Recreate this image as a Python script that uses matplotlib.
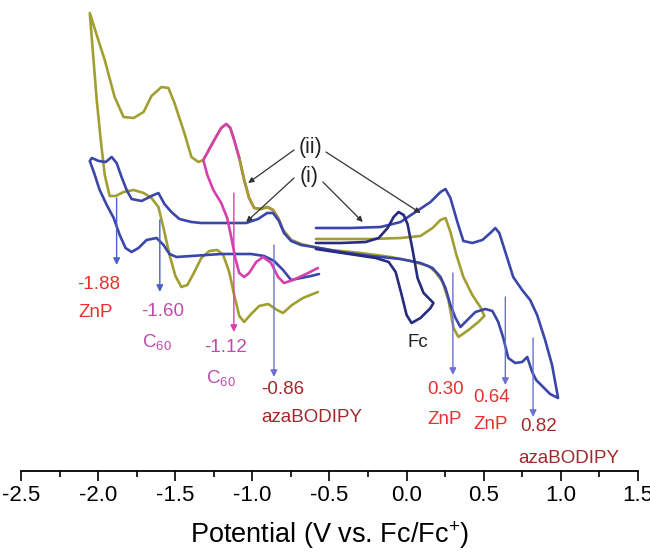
import numpy as np
import matplotlib
matplotlib.use("Agg")
import matplotlib.pyplot as plt
from matplotlib.ticker import MultipleLocator

plt.rcParams['font.family'] = ['Liberation Sans', 'DejaVu Sans']
plt.rcParams['mathtext.fontset'] = 'custom'
plt.rcParams['mathtext.rm'] = 'Liberation Sans'
plt.rcParams['mathtext.it'] = 'Liberation Sans'

# (ii) scan: -0.6 V -> +0.5 V -> -2.05 V -> -0.6 V  (current, arb. units)
E_ii = [-0.588, -0.426, -0.233, -0.039, 0.090, 0.168, 0.220, 0.252, 0.284, 0.323,
        0.368, 0.426, 0.478, 0.504, 0.465, 0.401, 0.336, 0.304, 0.271, 0.233,
        0.187, 0.142, 0.026, -0.103, -0.297, -0.491, -0.601, -0.685, -0.749, -0.801,
        -0.833, -0.866, -0.904, -0.943, -0.988, -1.021, -1.053, -1.085, -1.118, -1.143,
        -1.169, -1.202, -1.247, -1.286, -1.318, -1.350, -1.395, -1.441, -1.505, -1.544,
        -1.589, -1.654, -1.705, -1.770, -1.835, -1.893, -1.957, -2.003, -2.054, -2.035,
        -2.009, -1.983, -1.957, -1.925, -1.886, -1.835, -1.770, -1.705, -1.654, -1.609,
        -1.576, -1.537, -1.499, -1.460, -1.421, -1.376, -1.331, -1.279, -1.227, -1.189,
        -1.150, -1.118, -1.085, -1.053, -1.008, -0.956, -0.898, -0.840, -0.801, -0.743,
        -0.672, -0.575]
I_ii = [23.2, 23.2, 23.2, 23.3, 23.5, 24.3, 25.1, 25.3, 23.9, 21.6,
        19.4, 17.6, 16.4, 15.5, 14.9, 14.1, 13.4, 14.3, 17.1, 18.9,
        19.9, 20.5, 21.0, 21.4, 21.8, 22.1, 22.4, 22.7, 23.1, 24.1,
        25.3, 26.1, 26.4, 26.2, 26.3, 27.3, 29.1, 31.3, 33.1, 34.3,
        34.7, 34.3, 33.1, 32.0, 31.1, 30.9, 31.4, 33.8, 36.8, 38.3,
        38.4, 37.5, 35.9, 35.3, 35.4, 37.4, 41.1, 43.3, 45.8, 42.1,
        37.1, 33.1, 29.6, 27.5, 27.5, 27.9, 28.1, 27.8, 27.3, 26.4,
        24.3, 21.6, 19.5, 18.4, 18.6, 19.9, 21.3, 22.0, 22.1, 21.6,
        19.9, 17.6, 15.5, 14.9, 15.7, 16.5, 16.7, 16.1, 15.8, 16.6,
        17.3, 17.9]

# (i) scan: -0.6 V -> +1.0 V -> -2.05 V -> -0.6 V
E_i = [-0.588, -0.362, -0.168, -0.039, 0.058, 0.155, 0.220, 0.252, 0.284, 0.329,
       0.368, 0.426, 0.491, 0.543, 0.575, 0.601, 0.640, 0.691, 0.749, 0.801,
       0.846, 0.898, 0.943, 0.982, 0.930, 0.885, 0.840, 0.814, 0.782, 0.749,
       0.704, 0.659, 0.627, 0.594, 0.556, 0.510, 0.446, 0.381, 0.349, 0.317,
       0.284, 0.252, 0.220, 0.168, 0.090, -0.039, -0.233, -0.426, -0.601, -0.685,
       -0.749, -0.795, -0.827, -0.866, -0.904, -0.963, -1.040, -1.202, -1.331, -1.395,
       -1.473, -1.525, -1.570, -1.609, -1.654, -1.718, -1.783, -1.815, -1.848, -1.880,
       -1.912, -1.951, -1.996, -2.041, -2.054, -2.028, -1.990, -1.944, -1.899, -1.860,
       -1.822, -1.783, -1.738, -1.686, -1.621, -1.576, -1.537, -1.492, -1.395, -1.202,
       -1.008, -0.924, -0.859, -0.801, -0.749, -0.685, -0.620, -0.568]
I_i = [24.3, 24.3, 24.4, 24.9, 25.9, 26.9, 27.9, 28.2, 27.3, 24.9,
       23.0, 22.8, 23.1, 23.8, 24.3, 23.8, 21.9, 19.4, 18.1, 17.1,
       15.6, 13.1, 10.6, 7.3, 7.7, 8.4, 9.1, 9.9, 11.4, 10.9,
       10.8, 11.3, 13.3, 14.9, 16.0, 16.2, 15.9, 14.9, 14.4, 15.3,
       16.6, 18.3, 19.4, 20.3, 20.8, 21.2, 21.5, 21.9, 22.4, 22.6,
       23.0, 23.8, 25.0, 25.8, 25.8, 25.2, 24.8, 24.8, 24.8, 24.9,
       25.2, 25.9, 26.7, 27.8, 27.5, 27.0, 27.2, 28.1, 29.4, 30.8,
       31.4, 30.9, 31.0, 31.3, 31.0, 29.9, 28.1, 26.6, 25.3, 23.6,
       22.3, 21.9, 22.3, 23.1, 23.3, 22.6, 21.7, 21.4, 21.5, 21.7,
       21.7, 21.5, 21.0, 20.1, 19.1, 19.3, 19.5, 19.7]

# ferrocene reference scan
E_fc = [-0.588, -0.426, -0.265, -0.181, -0.123, -0.084, -0.052, -0.019, 0.006, 0.039,
        0.071, 0.110, 0.174, 0.155, 0.090, 0.032, 0.000, -0.032, -0.071, -0.116,
        -0.200, -0.329, -0.459, -0.588]
I_fc = [22.8, 22.8, 22.9, 23.3, 24.3, 25.4, 25.9, 25.6, 24.7, 22.1,
        19.3, 17.8, 16.8, 16.3, 15.3, 14.8, 15.6, 17.6, 19.9, 20.9,
        21.3, 21.6, 21.9, 22.2]

# short scan over the first C60 reduction
E_c60 = [-0.685, -0.749, -0.801, -0.833, -0.866, -0.904, -0.943, -0.988, -1.021, -1.053,
         -1.085, -1.118, -1.143, -1.169, -1.202, -1.247, -1.286, -1.318, -1.292, -1.253,
         -1.202, -1.163, -1.137, -1.111, -1.085, -1.053, -1.021, -0.975, -0.930, -0.879,
         -0.833, -0.795, -0.736, -0.652, -0.575]
I_c60 = [22.7, 23.1, 24.1, 25.3, 26.1, 26.4, 26.2, 26.3, 27.3, 29.1,
         31.3, 33.1, 34.3, 34.7, 34.3, 33.1, 32.0, 31.1, 29.6, 28.1,
         26.8, 25.3, 23.4, 21.3, 19.8, 19.4, 19.8, 20.9, 21.4, 20.8,
         19.4, 18.8, 19.1, 19.7, 20.3]

# half-wave potentials (V) with marker extents and labels
peak_E = [-1.88, -1.60, -1.12, -0.86, 0.30, 0.64, 0.82]
peak_top = [27.3, 25.1, 27.8, 22.6, 19.8, 17.4, 13.3]
peak_tip = [20.6, 17.9, 13.9, 9.4, 9.6, 8.6, 5.4]
peak_species = ['ZnP', 'C$_{60}$', 'C$_{60}$', 'azaBODIPY', 'ZnP', 'ZnP', 'azaBODIPY']
label_E = [-2.138, -1.718, -1.311, -0.943, 0.136, 0.433, 0.736]
label_I = [18.6, 15.9, 12.3, 8.1, 8.1, 7.3, 4.4]
species_E = [-2.125, -1.718, -1.298, -0.943, 0.136, 0.433, 0.724]
species_I = [15.8, 12.9, 9.3, 5.3, 5.1, 4.6, 1.2]

olive = '#a19f32'
blue = '#3a46aa'
navy = '#282b7e'
pink = '#d640ad'
red = '#e4332d'
magenta = '#c04aae'
darkred = '#a2282c'
arrow_blue = '#4a62c6'
arrow_violet = '#6d70d2'

peak_text_col = [red, magenta, magenta, darkred, red, red, darkred]
peak_arrow_col = [arrow_blue, arrow_blue, pink, arrow_violet, arrow_violet, arrow_violet, arrow_violet]

fig = plt.figure(figsize=(6.5, 5.53), dpi=100)
ax = fig.add_axes([0.0323, 0.1483, 0.9492, 0.8517])

line_kw = dict(lw=1.9, solid_joinstyle='round', solid_capstyle='round')
ax.plot(E_c60[:11], I_c60[:11], color=pink, zorder=1, **line_kw)
ax.plot(E_ii, I_ii, color=olive, zorder=2, **line_kw)
ax.plot(E_i, I_i, color=blue, zorder=3, **line_kw)
ax.plot(E_fc, I_fc, color=navy, zorder=3, **line_kw)
ax.plot(E_c60[10:], I_c60[10:], color=pink, zorder=4, **line_kw)

for e, top, tip, ac in zip(peak_E, peak_top, peak_tip, peak_arrow_col):
    ax.annotate('', xy=(e, tip), xytext=(e, top),
                arrowprops=dict(arrowstyle='-|>', color=ac, lw=1.0,
                                mutation_scale=10, shrinkA=0, shrinkB=0), zorder=5)
for e, lx, ly, tc in zip(peak_E, label_E, label_I, peak_text_col):
    ax.text(lx, ly, '%.2f' % e, color=tc, fontsize=13.5, ha='left', va='center')
for sp, sx, sy, tc in zip(peak_species, species_E, species_I, peak_text_col):
    ax.text(sx, sy, sp, color=tc, fontsize=13.5, ha='left', va='center')

ax.text(0.006, 12.8, 'Fc', color='#222222', fontsize=13.5, ha='left', va='center')

# scan labels with pointers
ax.text(-0.620, 32.3, '(ii)', fontsize=15.5, ha='center', va='center', color='#222222')
ax.text(-0.633, 29.4, '(i)', fontsize=15.5, ha='center', va='center', color='#222222')
pointers = [((-0.730, 32.1), (-1.027, 28.8)), ((-0.523, 31.9), (0.090, 25.8)),
            ((-0.730, 29.3), (-1.040, 24.9)), ((-0.543, 28.9), (-0.284, 24.9))]
for start, end in pointers:
    ax.annotate('', xy=end, xytext=start,
                arrowprops=dict(arrowstyle='-|>', color='#333333', lw=0.9,
                                mutation_scale=8, shrinkA=0, shrinkB=0))

ax.set_xlim(-2.5, 1.5)
ax.set_ylim(0, 47.1)
ax.xaxis.set_minor_locator(MultipleLocator(0.25))
ax.set_xticks(np.arange(-2.5, 1.51, 0.5))
ax.set_xticklabels(['%.1f' % v for v in np.arange(-2.5, 1.51, 0.5)], fontsize=16)
ax.tick_params(axis='x', which='major', direction='out', length=7, width=1.2, pad=3)
ax.tick_params(axis='x', which='minor', direction='out', length=4, width=1.2)
ax.set_yticks([])
for side in ['left', 'right', 'top']:
    ax.spines[side].set_visible(False)
ax.spines['bottom'].set_linewidth(1.3)
ax.patch.set_alpha(0)
ax.set_xlabel('Potential (V vs. Fc/Fc$^{+}$)', fontsize=19.5, labelpad=10)

fig.savefig('out.png', dpi=100)
